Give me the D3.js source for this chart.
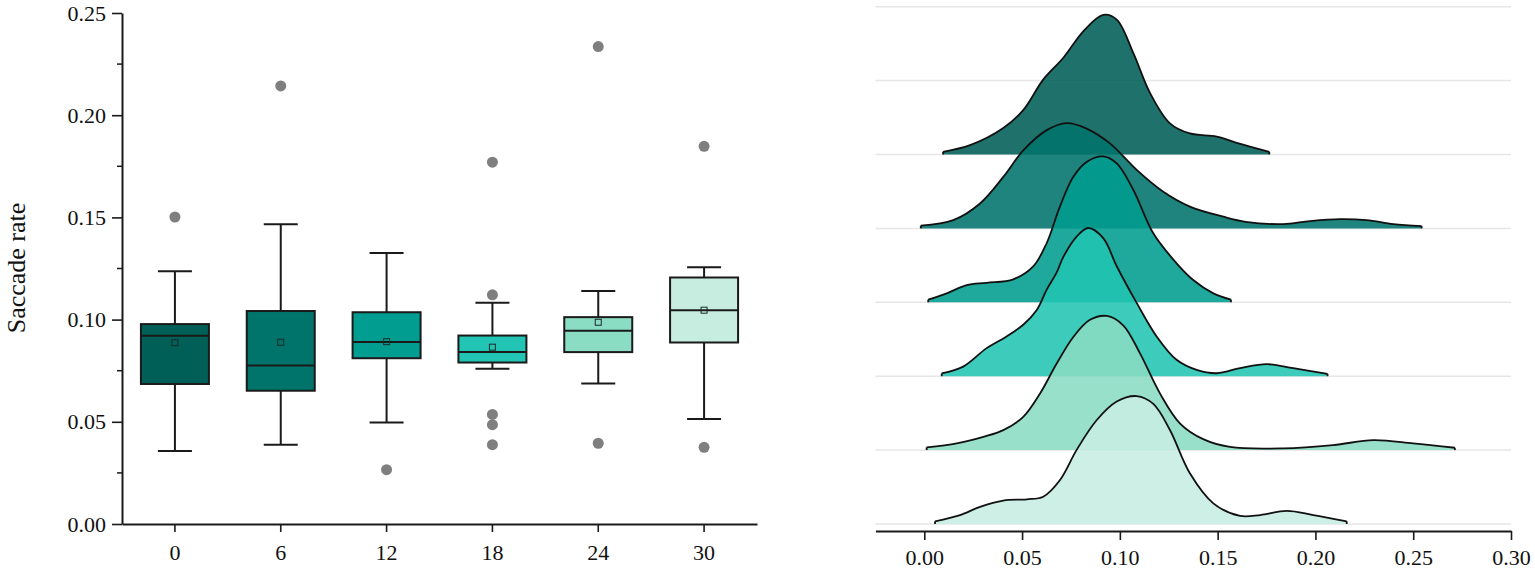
<!DOCTYPE html>
<html>
<head>
<meta charset="utf-8">
<script src="https://cdn.jsdelivr.net/npm/d3@7"></script>
<style>
  html, body { margin: 0; padding: 0; background: #fff; }
  svg { display: block; }
  text { font-family: "Liberation Serif", "Times New Roman", serif; fill: #111; }
</style>
</head>
<body>
<script>
// ---------------- DATA ----------------
const groups = ["0", "6", "12", "18", "24", "30"];
const boxFill = ["#005f56", "#00736b", "#009d90", "#22c4b3", "#8adcc3", "#c7ede1"];
const whiskerLow  = [0.0357, 0.0388, 0.0497, 0.0760, 0.0687, 0.0514];
const q1          = [0.0685, 0.0652, 0.0811, 0.0790, 0.0841, 0.0888];
const median      = [0.0921, 0.0775, 0.0890, 0.0841, 0.0945, 0.1046];
const q3          = [0.0978, 0.1042, 0.1036, 0.0922, 0.1012, 0.1206];
const whiskerHigh = [0.1236, 0.1466, 0.1326, 0.1082, 0.1140, 0.1256];
const meanVal     = [0.0887, 0.0889, 0.0892, 0.0865, 0.0987, 0.1046];
const outliers    = [
  [0.1502],
  [0.2143],
  [0.0266],
  [0.1770, 0.1121, 0.0536, 0.0486, 0.0388],
  [0.2336, 0.0395],
  [0.1848, 0.0375]
];
const yTicks = [0.00, 0.05, 0.10, 0.15, 0.20, 0.25];
const yMinorTicks = [0.025, 0.075, 0.125, 0.175, 0.225];
const xrTicks = [0.00, 0.05, 0.10, 0.15, 0.20, 0.25, 0.30];

// density curves (saccade rate, density)
const dens0x = [0.0096, 0.0234, 0.0404, 0.0506, 0.0608, 0.0711, 0.0813, 0.0915, 0.0984, 0.1069, 0.1154, 0.1256, 0.1358, 0.1495, 0.1597, 0.1764];
const dens0y = [0.35, 1.2, 3.4, 5.7, 9.6, 12.4, 15.8, 17.9, 17.3, 13.0, 7.9, 4.0, 2.7, 2.3, 1.5, 0.35];
const dens6x = [-0.0018, 0.0148, 0.0285, 0.0404, 0.0506, 0.0626, 0.0728, 0.0830, 0.0949, 0.1086, 0.1222, 0.1358, 0.1529, 0.1643, 0.1835, 0.1972, 0.2125, 0.2262, 0.2398, 0.2543];
const dens6y = [0.35, 1.06, 3.2, 6.6, 10.0, 12.6, 13.5, 12.8, 10.9, 7.5, 4.7, 2.8, 1.5, 0.85, 0.55, 0.94, 1.19, 1.06, 0.55, 0.3];
const dens12x = [0.0020, 0.0115, 0.0217, 0.0319, 0.0455, 0.0557, 0.0626, 0.0694, 0.0762, 0.0830, 0.0915, 0.0984, 0.1069, 0.1171, 0.1290, 0.1375, 0.1478, 0.1568];
const dens12y = [0.35, 1.15, 2.2, 2.5, 2.95, 4.6, 7.6, 12.3, 16.1, 18.0, 18.7, 17.8, 14.4, 8.85, 5.0, 2.86, 1.15, 0.35];
const dens18x = [0.0089, 0.0199, 0.0319, 0.0421, 0.0506, 0.0575, 0.0626, 0.0677, 0.0711, 0.0779, 0.0838, 0.0915, 0.0984, 0.1086, 0.1188, 0.1290, 0.1393, 0.1495, 0.1615, 0.1751, 0.1887, 0.2062];
const dens18y = [0.35, 1.23, 3.6, 5.1, 6.6, 8.5, 11.1, 13.3, 15.3, 17.9, 19.0, 17.7, 14.1, 9.4, 5.1, 2.1, 0.8, 0.38, 1.03, 1.54, 1.03, 0.3];
const dens24x = [0.0012, 0.0166, 0.0302, 0.0404, 0.0506, 0.0592, 0.0677, 0.0762, 0.0847, 0.0933, 0.1017, 0.1103, 0.1205, 0.1308, 0.1426, 0.1563, 0.1835, 0.2091, 0.2296, 0.2500, 0.2713];
const dens24y = [0.35, 0.86, 1.7, 2.56, 4.27, 7.27, 11.1, 14.5, 16.7, 17.2, 16.0, 12.4, 7.27, 3.4, 1.4, 0.4, 0.22, 0.64, 1.28, 0.86, 0.3];
const dens30x = [0.0055, 0.0183, 0.0285, 0.0404, 0.0524, 0.0608, 0.0694, 0.0779, 0.0881, 0.0984, 0.1086, 0.1171, 0.1256, 0.1358, 0.1478, 0.1615, 0.1718, 0.1853, 0.1989, 0.2160];
const dens30y = [0.35, 1.15, 2.2, 3.0, 3.17, 3.5, 5.64, 9.5, 13.3, 15.7, 16.4, 15.4, 12.05, 6.5, 2.65, 1.03, 1.15, 1.67, 1.15, 0.35];
const ridgeFill = ["#005f56", "#00736b", "#009d90", "#22c4b3", "#8adcc3", "#c7ede1"];

const densX = [dens0x, dens6x, dens12x, dens18x, dens24x, dens30x];
const densY = [dens0y, dens6y, dens12y, dens18y, dens24y, dens30y];

// ---------------- CHART ----------------
const W = 1535, H = 571;
const svg = d3.select("body").append("svg").attr("width", W).attr("height", H);
svg.append("rect").attr("width", W).attr("height", H).attr("fill", "#fff");

const axisColor = "#1a1a1a";

// ---- Left: box plot ----
const x = d3.scaleBand().domain(groups).range([122, 757]).padding(0);
const y = d3.scaleLinear().domain([0, 0.25]).range([524, 13]);
const boxW = 68, capW = 34;

const left = svg.append("g");

left.append("g").selectAll("line").data(yMinorTicks).join("line")
  .attr("x1", 122 - 5).attr("x2", 122)
  .attr("y1", d => y(d)).attr("y2", d => y(d))
  .attr("stroke", axisColor).attr("stroke-width", 1.5);

const yAxis = left.append("g").attr("transform", "translate(122,0)")
  .call(d3.axisLeft(y).tickValues(yTicks).tickFormat(d3.format(".2f")).tickSize(10).tickSizeOuter(0).tickPadding(6));
const xAxis = left.append("g").attr("transform", "translate(0,524)")
  .call(d3.axisBottom(x).tickSize(8).tickSizeOuter(0).tickPadding(12));
[yAxis, xAxis].forEach(a => {
  a.select(".domain").attr("stroke", axisColor).attr("stroke-width", 2);
  a.selectAll(".tick line").attr("stroke", axisColor).attr("stroke-width", 1.6);
  a.selectAll(".tick text").attr("font-size", 22).attr("fill", "#111");
});

left.append("text")
  .attr("transform", "translate(25,268) rotate(-90)")
  .attr("text-anchor", "middle")
  .attr("font-size", 26)
  .text("Saccade rate");

const boxes = left.append("g").selectAll("g").data(groups).join("g")
  .attr("transform", d => `translate(${x(d) + x.bandwidth() / 2},0)`);

boxes.each(function(d, i) {
  const g = d3.select(this);
  g.append("line").attr("x1", 0).attr("x2", 0)
    .attr("y1", y(q3[i])).attr("y2", y(whiskerHigh[i]))
    .attr("stroke", axisColor).attr("stroke-width", 2);
  g.append("line").attr("x1", 0).attr("x2", 0)
    .attr("y1", y(q1[i])).attr("y2", y(whiskerLow[i]))
    .attr("stroke", axisColor).attr("stroke-width", 2);
  g.append("line").attr("x1", -capW / 2).attr("x2", capW / 2)
    .attr("y1", y(whiskerHigh[i])).attr("y2", y(whiskerHigh[i]))
    .attr("stroke", axisColor).attr("stroke-width", 2);
  g.append("line").attr("x1", -capW / 2).attr("x2", capW / 2)
    .attr("y1", y(whiskerLow[i])).attr("y2", y(whiskerLow[i]))
    .attr("stroke", axisColor).attr("stroke-width", 2);
  g.append("rect").attr("x", -boxW / 2).attr("width", boxW)
    .attr("y", y(q3[i])).attr("height", y(q1[i]) - y(q3[i]))
    .attr("fill", boxFill[i]).attr("stroke", axisColor).attr("stroke-width", 2);
  g.append("line").attr("x1", -boxW / 2).attr("x2", boxW / 2)
    .attr("y1", y(median[i])).attr("y2", y(median[i]))
    .attr("stroke", axisColor).attr("stroke-width", 2);
  g.append("rect").attr("x", -3).attr("width", 6)
    .attr("y", y(meanVal[i]) - 3).attr("height", 6)
    .attr("fill", "none").attr("stroke", "#1a2a28").attr("stroke-width", 1);
  g.selectAll("circle").data(outliers[i]).join("circle")
    .attr("cx", 0).attr("cy", v => y(v)).attr("r", 5.5)
    .attr("fill", "#7f7f7f");
});

// ---- Right: ridgeline ----
const xr = d3.scaleLinear().domain([-0.025, 0.30]).range([875.4, 1511]);
const row = d3.scaleLinear().domain([-2, 5]).range([6.7, 524]);
const dScale = d3.scaleLinear().domain([0, 20]).range([0, 156]);

const right = svg.append("g");
right.append("g").selectAll("line").data(d3.range(-2, 6)).join("line")
  .attr("x1", 875.4).attr("x2", 1511)
  .attr("y1", d => row(d)).attr("y2", d => row(d))
  .attr("stroke", "#e6e6e6").attr("stroke-width", 1.5);

groups.forEach((gname, i) => {
  const base = row(i);
  const pts = densX[i].map((v, k) => [v, densY[i][k]]);
  const area = d3.area()
    .x(p => xr(p[0]))
    .y0(base)
    .y1(p => base - dScale(p[1]))
    .curve(d3.curveCatmullRom.alpha(0.5));
  const g = right.append("g");
  g.append("path").datum(pts).attr("d", area)
    .attr("fill", ridgeFill[i]).attr("fill-opacity", 0.88);
  g.append("path").datum(pts).attr("d", area.lineY1())
    .attr("fill", "none").attr("stroke", "#111").attr("stroke-width", 1.8)
    .attr("stroke-linejoin", "round");
  [pts[0], pts[pts.length - 1]].forEach(p => {
    g.append("line").attr("x1", xr(p[0])).attr("x2", xr(p[0]))
      .attr("y1", base).attr("y2", base - dScale(p[1]))
      .attr("stroke", "#111").attr("stroke-width", 1.8);
  });
});

const xrAxis = right.append("g").attr("transform", "translate(0,531)")
  .call(d3.axisBottom(xr).tickValues(xrTicks).tickFormat(d3.format(".2f")).tickSize(9).tickSizeOuter(0).tickPadding(9));
xrAxis.select(".domain").attr("stroke", axisColor).attr("stroke-width", 2);
xrAxis.selectAll(".tick line").attr("stroke", axisColor).attr("stroke-width", 1.6);
xrAxis.selectAll(".tick text").attr("font-size", 22).attr("fill", "#111");
</script>
</body>
</html>
